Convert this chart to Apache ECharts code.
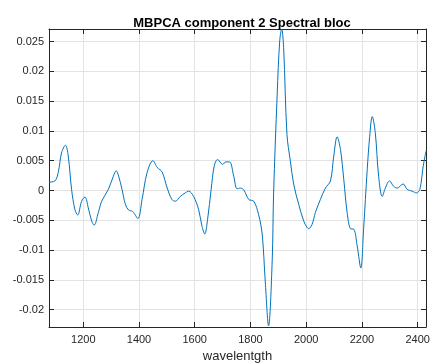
<!DOCTYPE html>
<html>
<head>
<meta charset="utf-8">
<script src="https://cdn.jsdelivr.net/npm/echarts@6/dist/echarts.min.js"></script>
<style>html,body{margin:0;padding:0;background:#fff}#c{width:439px;height:363px}</style>
</head>
<body>
<div id="c"></div>
<script>
const wavelength = [1077,1098,1110,1122,1136,1146,1158,1170,1180,1194,1206,1218,1230,1239,1254,1266,1290,1308,1318,1327,1339,1351,1363,1377,1396,1411,1429,1450,1465,1483,1501,1518,1530,1548,1566,1578,1596,1614,1626,1636,1646,1659,1670,1682,1700,1712,1725,1740,1752,1764,1776,1794,1812,1829,1842,1853,1865,1878,1883,1896,1905,1912,1919,1931,1943,1955,1973,1991,2003,2009,2021,2033,2051,2069,2087,2099,2111,2123,2135,2147,2159,2171,2183,2196,2206,2219,2228,2237,2248,2260,2273,2284,2299,2314,2326,2348,2362,2380,2396,2408,2420,2430];
const loading = [0.0014,0.0016,0.003,0.0063,0.0076,0.0058,0.0002,-0.0032,-0.0041,-0.0018,-0.0011,-0.0029,-0.0051,-0.0058,-0.0037,-0.0018,0.0002,0.0024,0.0033,0.0024,0.0002,-0.0023,-0.0033,-0.0035,-0.0047,-0.0015,0.003,0.005,0.0039,0.0031,0.00045,-0.0015,-0.0018,-0.001,-0.0004,-0.0001,-0.001,-0.0032,-0.006,-0.0073,-0.0049,0.0002,0.0041,0.0052,0.0044,0.0048,0.0048,0.0024,0.0003,0.0004,0.0001,-0.0015,-0.0018,-0.004,-0.0073,-0.0152,-0.0227,-0.0118,-0.0006,0.0162,0.0251,0.0271,0.024,0.0094,0.005,0.0011,-0.0023,-0.0051,-0.0062,-0.0064,-0.0057,-0.0037,-0.0015,0.0004,0.0016,0.0058,0.009,0.0069,0.0018,-0.0037,-0.0064,-0.0065,-0.0093,-0.013,-0.0065,0.0035,0.0091,0.0124,0.0097,0.0024,-0.001,0.0004,0.0016,0.0007,0.0004,0.0011,0.0002,-0.0001,-0.0004,0.0002,0.0041,0.0066];
const xTicks = [1200,1400,1600,1800,2000,2200,2400];
const yTicks = [-0.02,-0.015,-0.01,-0.005,0,0.005,0.01,0.015,0.02,0.025];
const yLabels = ['-0.02','-0.015','-0.01','-0.005','0','0.005','0.01','0.015','0.02','0.025'];

const font = 'Liberation Sans, Arial, Helvetica, sans-serif';
const axisCol = '#262626';
const gridCol = '#e3e3e3';
const xMin = 1077, xMax = 2430, yMin = -0.0229, yMax = 0.0271;

function xAx(pos, labels) {
  return {
    type: 'value', position: pos, min: xMin, max: xMax,
    name: labels ? 'wavelentgth' : '', nameLocation: 'middle', nameGap: 23,
    nameTextStyle: {fontFamily: font, fontSize: 13, color: axisCol},
    axisLine: {show: true, onZero: false, lineStyle: {color: axisCol, width: 1}},
    axisTick: {show: true, inside: true, length: 5, customValues: xTicks, lineStyle: {color: axisCol}},
    axisLabel: {show: labels, customValues: xTicks, fontFamily: font, fontSize: 11, color: axisCol, margin: 7,
      formatter: v => String(Math.round(v))},
    splitLine: {show: labels, lineStyle: {color: gridCol, width: 1}}
  };
}
function yAx(pos, labels) {
  return {
    type: 'value', position: pos, min: yMin, max: yMax,
    axisLine: {show: true, onZero: false, lineStyle: {color: axisCol, width: 1}},
    axisTick: {show: true, inside: true, length: 5, customValues: yTicks, lineStyle: {color: axisCol}},
    axisLabel: {show: labels, customValues: yTicks, fontFamily: font, fontSize: 11, color: axisCol, margin: 5,
      formatter: v => { const i = yTicks.findIndex(t => Math.abs(t - v) < 1e-9); return i >= 0 ? yLabels[i] : ''; }},
    splitLine: {show: labels, lineStyle: {color: gridCol, width: 1}}
  };
}

const chart = echarts.init(document.getElementById('c'), null, {renderer: 'canvas'});
chart.setOption({
  animation: false,
  backgroundColor: '#ffffff',
  title: {text: 'MBPCA component 2 Spectral bloc', left: 237, top: 12, textAlign: 'center',
    textStyle: {fontFamily: font, fontSize: 13, fontWeight: 'bold', color: '#000'}},
  grid: {left: 49, right: 13, top: 29, bottom: 36, containLabel: false, outerBoundsMode: 'none'},
  xAxis: [xAx('bottom', true), xAx('top', false)],
  yAxis: [yAx('left', true), yAx('right', false)],
  series: [{
    type: 'line', xAxisIndex: 0, yAxisIndex: 0,
    data: wavelength.map((w, i) => [w, loading[i]]),
    showSymbol: false, smooth: 0.35, clip: true,
    lineStyle: {color: '#0072BD', width: 1}
  }]
});
</script>
</body>
</html>
